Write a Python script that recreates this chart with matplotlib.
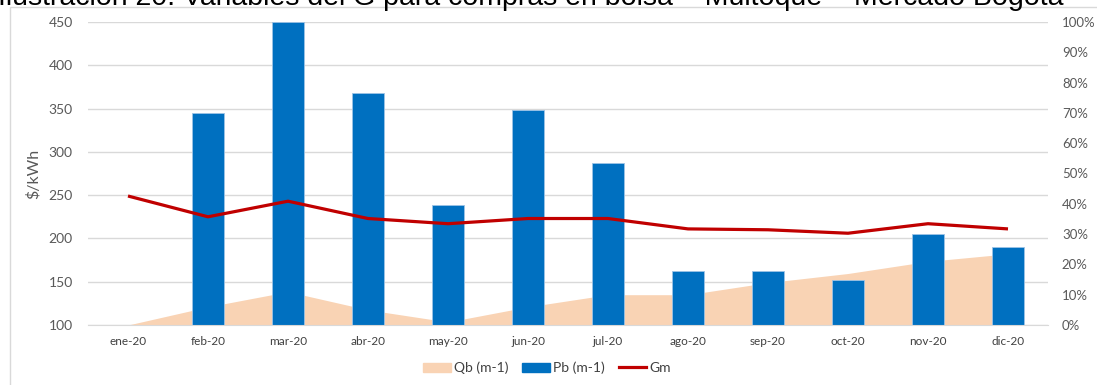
import matplotlib.pyplot as plt
import matplotlib.transforms as mtransforms
from matplotlib.patches import Patch, Rectangle
from matplotlib.lines import Line2D
import numpy as np

# datos mensuales 2020
meses = ['ene-20', 'feb-20', 'mar-20', 'abr-20', 'may-20', 'jun-20',
         'jul-20', 'ago-20', 'sep-20', 'oct-20', 'nov-20', 'dic-20']
pb = [np.nan, 345, 450, 368, 239, 348, 287, 162, 162, 152, 205, 190]   # $/kWh
gm = [249, 225, 243, 223, 217, 223, 223, 211, 210, 206, 217, 211]      # $/kWh
qb = [0.00, 0.06, 0.11, 0.05, 0.01, 0.06, 0.10, 0.10, 0.14, 0.17, 0.21, 0.235]  # fraccion

c_pb = '#0070C0'
c_qb = '#F9D3B4'
c_gm = '#C00000'
gris = '#595959'

plt.rcParams['font.family'] = ['Lato', 'DejaVu Sans']

fig = plt.figure(figsize=(10.97, 3.85), dpi=100)
ax = fig.add_axes([88/1097, 1-325/385, (1048-88)/1097, (325-22)/385])
ax2 = ax.twinx()

x = np.arange(len(meses))

ax.set_xlim(-0.5, 11.5)
ax.set_ylim(100, 450)
ax2.set_ylim(0, 1)

# area Qb en el eje derecho, dibujada sobre las lineas de division
tr = mtransforms.blended_transform_factory(ax.transData, ax2.transData)
ax.fill_between(x, 0, qb, transform=tr, color=c_qb, lw=0, zorder=1)

ax.bar(x, pb, width=0.41, color=c_pb, edgecolor='#9DC3E6', linewidth=0.6, zorder=2)
ax.plot(x, gm, color=c_gm, lw=2.3, zorder=3, solid_capstyle='butt')

ax.set_yticks(np.arange(100, 451, 50))
ax.grid(axis='y', color='#D9D9D9', lw=1, zorder=0)
ax.set_axisbelow(True)
ax.set_xticks(x)
ax.set_xticklabels(meses)
ax.tick_params(axis='x', length=0, pad=8, labelsize=8.5, labelcolor='#404040')
ax.tick_params(axis='y', length=0, pad=11, labelsize=10, labelcolor=gris)
for s in ['top', 'right', 'left']:
    ax.spines[s].set_visible(False)
ax.spines['bottom'].set_color('#D9D9D9')

ax2.set_yticks(np.arange(0, 1.01, 0.1))
ax2.set_yticklabels([f'{int(round(v*100))}%' for v in np.arange(0, 1.01, 0.1)])
ax2.tick_params(axis='y', length=0, pad=10, labelsize=9.5, labelcolor=gris)
for s in ax2.spines.values():
    s.set_visible(False)

ax.set_ylabel('$/kWh', fontsize=11.5, color=gris)
ax.yaxis.set_label_coords(-0.049, 0.5)

# marco del grafico
fig.patches.append(Rectangle((10/1097, -0.2), 1.2, 1.2 - 7/385, transform=fig.transFigure,
                             fill=False, edgecolor='#D9D9D9', lw=1))

fig.text(-0.002, 1 - 5/385, 'Ilustración 20. Variables del G para compras en bolsa – Multoqué – Mercado Bogotá',
         fontsize=20.5, va='baseline', ha='left', color='#000000', family=['Liberation Sans', 'DejaVu Sans'])

handles = [Patch(color=c_qb), Patch(color=c_pb), Line2D([0], [0], color=c_gm, lw=2.3)]
fig.legend(handles, ['Qb (m-1)', 'Pb (m-1)', 'Gm'], loc='center', ncol=3,
           bbox_to_anchor=(547/1097, 1-368/385), frameon=False, fontsize=10,
           labelcolor='#404040', handlelength=2.0, handletextpad=0.2, columnspacing=1.0)

fig.savefig('out.png', dpi=100)
